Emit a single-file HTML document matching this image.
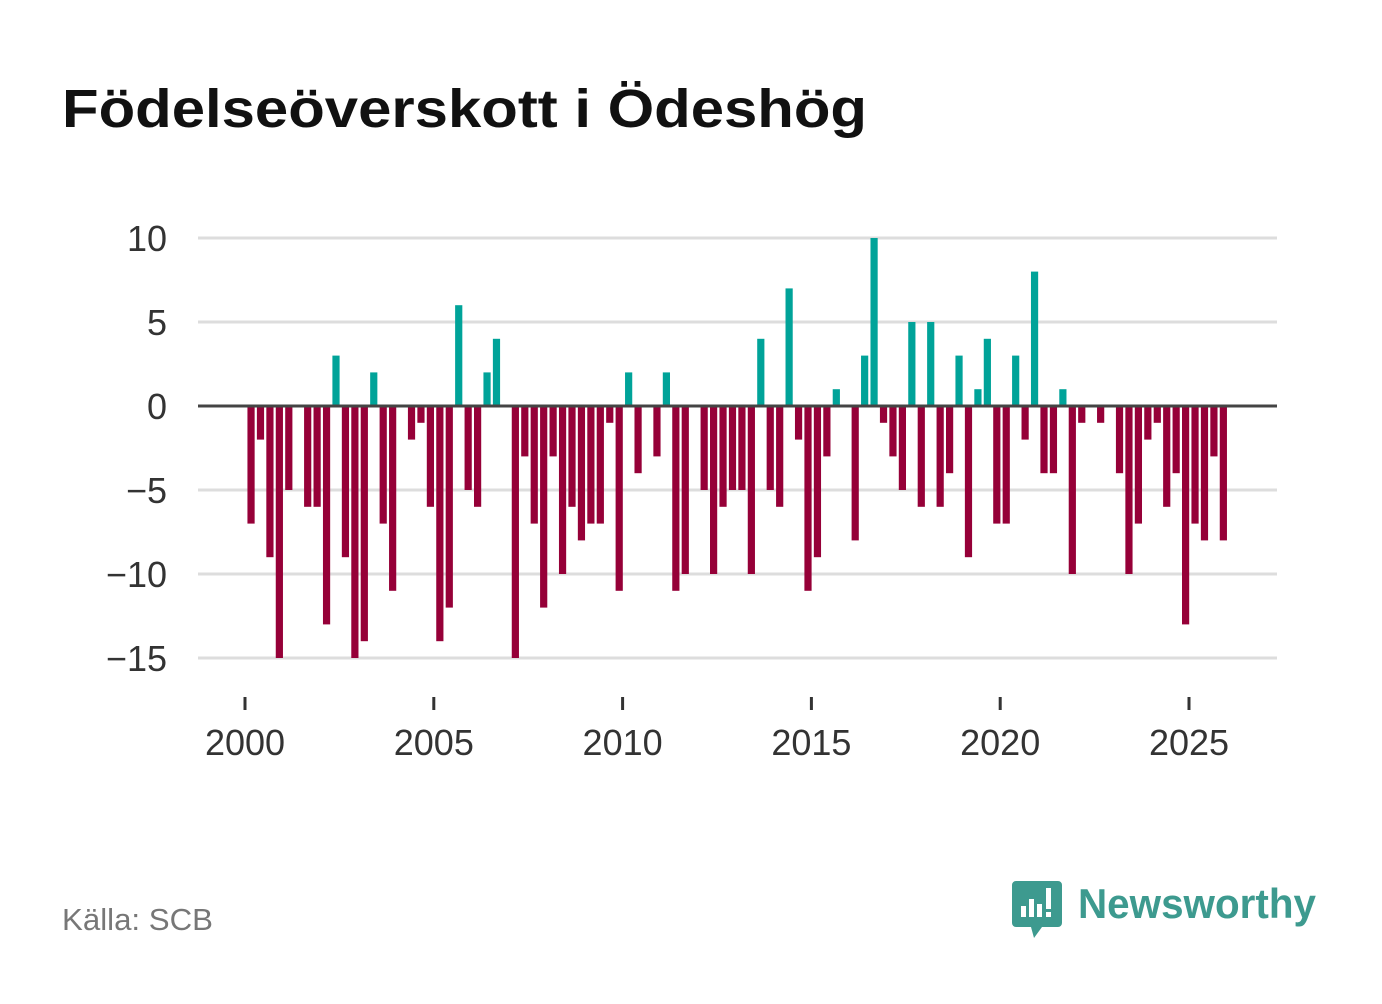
<!DOCTYPE html>
<html><head><meta charset="utf-8"><style>
html,body{margin:0;padding:0;background:#fff;}
body{width:1382px;height:999px;overflow:hidden;font-family:"Liberation Sans",sans-serif;}
</style></head><body>
<svg id="chart" width="1382" height="999" viewBox="0 0 1382 999" xmlns="http://www.w3.org/2000/svg">
<text x="62" y="127" font-family="Liberation Sans, sans-serif" font-weight="bold" font-size="54" fill="#111" textLength="805" lengthAdjust="spacingAndGlyphs">Födelseöverskott i Ödeshög</text>
<g id="grid"></g>
<g id="bars"></g>
<g id="axes"></g>
<text x="62" y="930" font-size="31" fill="#777" textLength="151" lengthAdjust="spacingAndGlyphs">Källa: SCB</text>
<g>
<path d="M1016 881 h42 a4 4 0 0 1 4 4 v38 a4 4 0 0 1 -4 4 h-16 l-8 11 l-3 -11 h-15 a4 4 0 0 1 -4 -4 v-38 a4 4 0 0 1 4 -4z" fill="#3d9a8f"/>
<rect x="1021" y="906" width="5" height="11" fill="#fff"/>
<rect x="1029" y="899" width="5" height="18" fill="#fff"/>
<rect x="1037" y="904" width="5" height="13" fill="#fff"/>
<rect x="1046" y="888" width="5" height="21" fill="#fff"/>
<rect x="1046" y="912" width="5" height="5" fill="#fff"/>
<text x="1078" y="918" font-size="42" font-weight="bold" fill="#3d9a8f" textLength="238" lengthAdjust="spacingAndGlyphs">Newsworthy</text>
</g>
</svg>
<script>
const values = [-7,-2,-9,-15,-5,0,-6,-6,-13,3,-9,-15,-14,2,-7,-11,0,-2,-1,-6,-14,-12,6,-5,-6,2,4,0,-15,-3,-7,-12,-3,-10,-6,-8,-7,-7,-1,-11,2,-4,0,-3,2,-11,-10,0,-5,-10,-6,-5,-5,-10,4,-5,-6,7,-2,-11,-9,-3,1,0,-8,3,10,-1,-3,-5,5,-6,5,-6,-4,3,-9,1,4,-7,-7,3,-2,8,-4,-4,1,-10,-1,0,-1,0,-4,-10,-7,-2,-1,-6,-4,-13,-7,-8,-3,-8];
const startYear = 2000;
const yTicks = [10,5,0,-5,-10,-15];
const yTickLabels = ["10","5","0","−5","−10","−15"];
const xTicks = [2000,2005,2010,2015,2020,2025];
const NS="http://www.w3.org/2000/svg";
function y(v){return 406 - v*16.8;}
function x(t){return 245 + (t-2000)*37.76;}
function mk(tag,attrs,parent){const e=document.createElementNS(NS,tag);for(const k in attrs)e.setAttribute(k,attrs[k]);parent.appendChild(e);return e;}
const grid=document.getElementById('grid'),bars=document.getElementById('bars'),axes=document.getElementById('axes');
yTicks.forEach((t,i)=>{
  if(t!==0){const l=mk('line',{x1:198,x2:1277,y1:y(t),y2:y(t),stroke:'#ddd','stroke-width':3},grid);
  
  }
  const tx=mk('text',{x:167,y:y(t)+13,'text-anchor':'end','font-size':36,fill:'#333'},axes);
  tx.textContent=yTickLabels[i];
  
  
});
values.forEach((v,i)=>{
  if(v===0)return;
  const cx=x(startYear+i*0.25+0.16);
  const r=mk('rect',{x:cx-3.6,width:7.2,y:Math.min(y(v),y(0)),height:Math.abs(y(v)-y(0)),fill:v>0?'#00a399':'#960038'},bars);
  
  
});
const z=mk('line',{x1:198,x2:1277,y1:y(0),y2:y(0),stroke:'#444','stroke-width':3},axes);


xTicks.forEach(t=>{
  const l=mk('line',{x1:x(t),x2:x(t),y1:697,y2:710,stroke:'#333','stroke-width':3},axes);
  
  
  const tx=mk('text',{x:x(t),y:755,'text-anchor':'middle','font-size':36,fill:'#333'},axes);
  tx.textContent=String(t);
  
  
});
</script>
</body></html>
